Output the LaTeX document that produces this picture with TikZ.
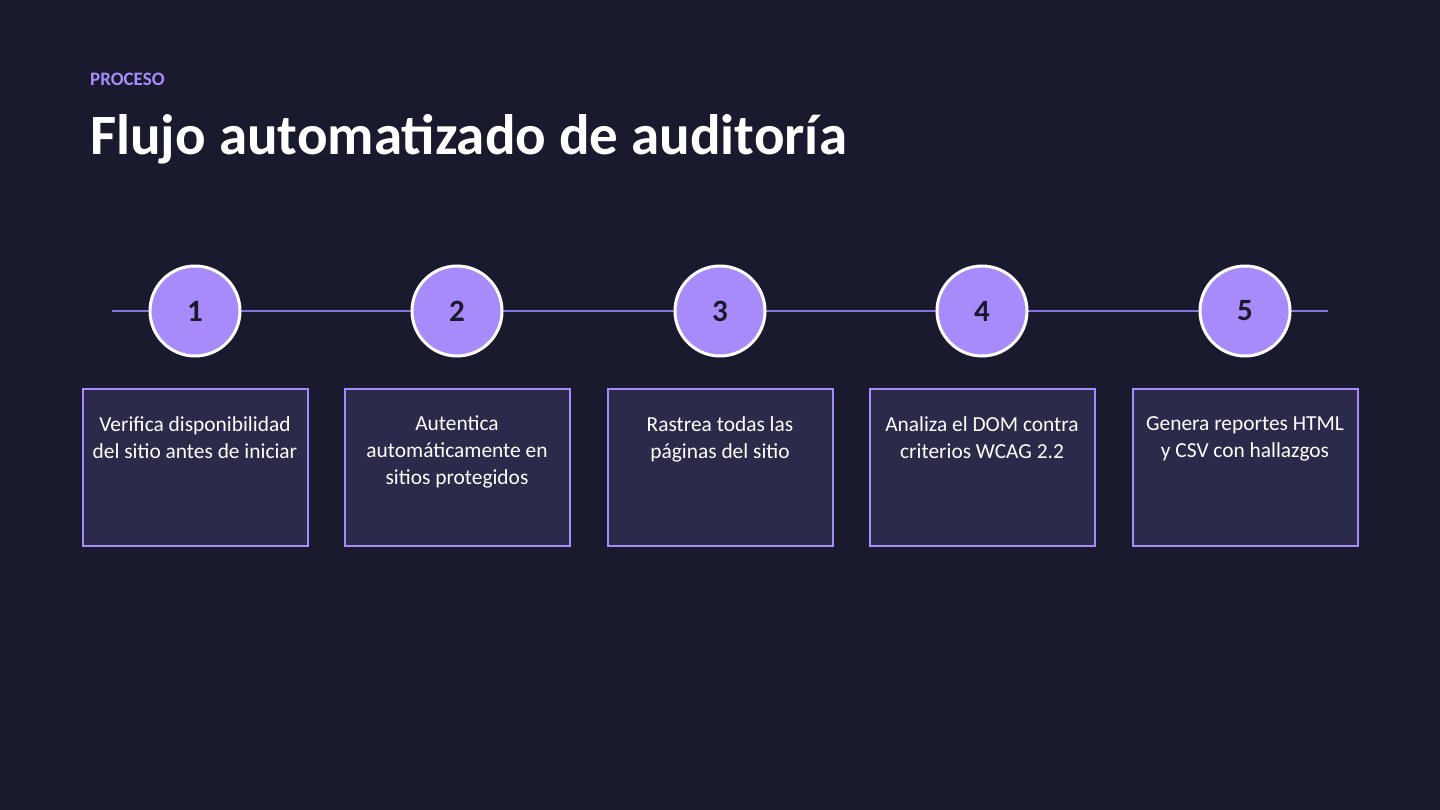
\documentclass[tikz,border=0pt]{standalone}
\usepackage{fontspec}
\setmainfont{Carlito}
\definecolor{bg}{HTML}{1A1A2E}
\definecolor{pur}{HTML}{A78BFA}
\definecolor{line}{HTML}{8B6FE0}
\definecolor{boxf}{HTML}{2B2A4A}
\begin{document}
\begin{tikzpicture}[x=1pt,y=-1pt,
  stepc/.style={circle,minimum size=90pt,inner sep=0pt,fill=pur,draw=white,line width=3pt,text=bg,font=\bfseries\fontsize{31}{34}\selectfont},
  card/.style={rectangle,minimum width=225pt,minimum height=157pt,fill=boxf,draw=pur,line width=2pt},
  txt/.style={text=white,align=center,font=\fontsize{21.4}{27}\selectfont,anchor=north,inner sep=0pt}]
\fill[bg] (0,0) rectangle (1440,810);
\useasboundingbox (0,0) rectangle (1440,810);
\node[anchor=base west,inner sep=0pt,text=pur,font=\bfseries\fontsize{19}{22}\selectfont] (kick) at (90,86) {PROCESO};
\node[anchor=base west,inner sep=0pt,text=white,font=\bfseries\fontsize{57}{64}\selectfont] (title) at (90,155) {Flujo automatizado de auditoría};
\coordinate (l0) at (112,311);
\coordinate (l1) at (1328,311);
\draw[line,line width=2pt] (l0) -- (l1);
\foreach \i/\x/\t in {1/195/{Verifica disponibilidad\\del sitio antes de iniciar},2/457/{Autentica\\automáticamente en\\sitios protegidos},3/720/{Rastrea todas las\\páginas del sitio},4/982/{Analiza el DOM contra\\criterios WCAG 2.2},5/1245/{Genera reportes HTML\\y CSV con hallazgos}}{
  \node[stepc] (s\i) at (\x,311) {\i};
  \node[card] (c\i) at (\x,467.5) {};
  \node[txt] (t\i) at (\x,416) {\t};
}
\end{tikzpicture}
\end{document}
